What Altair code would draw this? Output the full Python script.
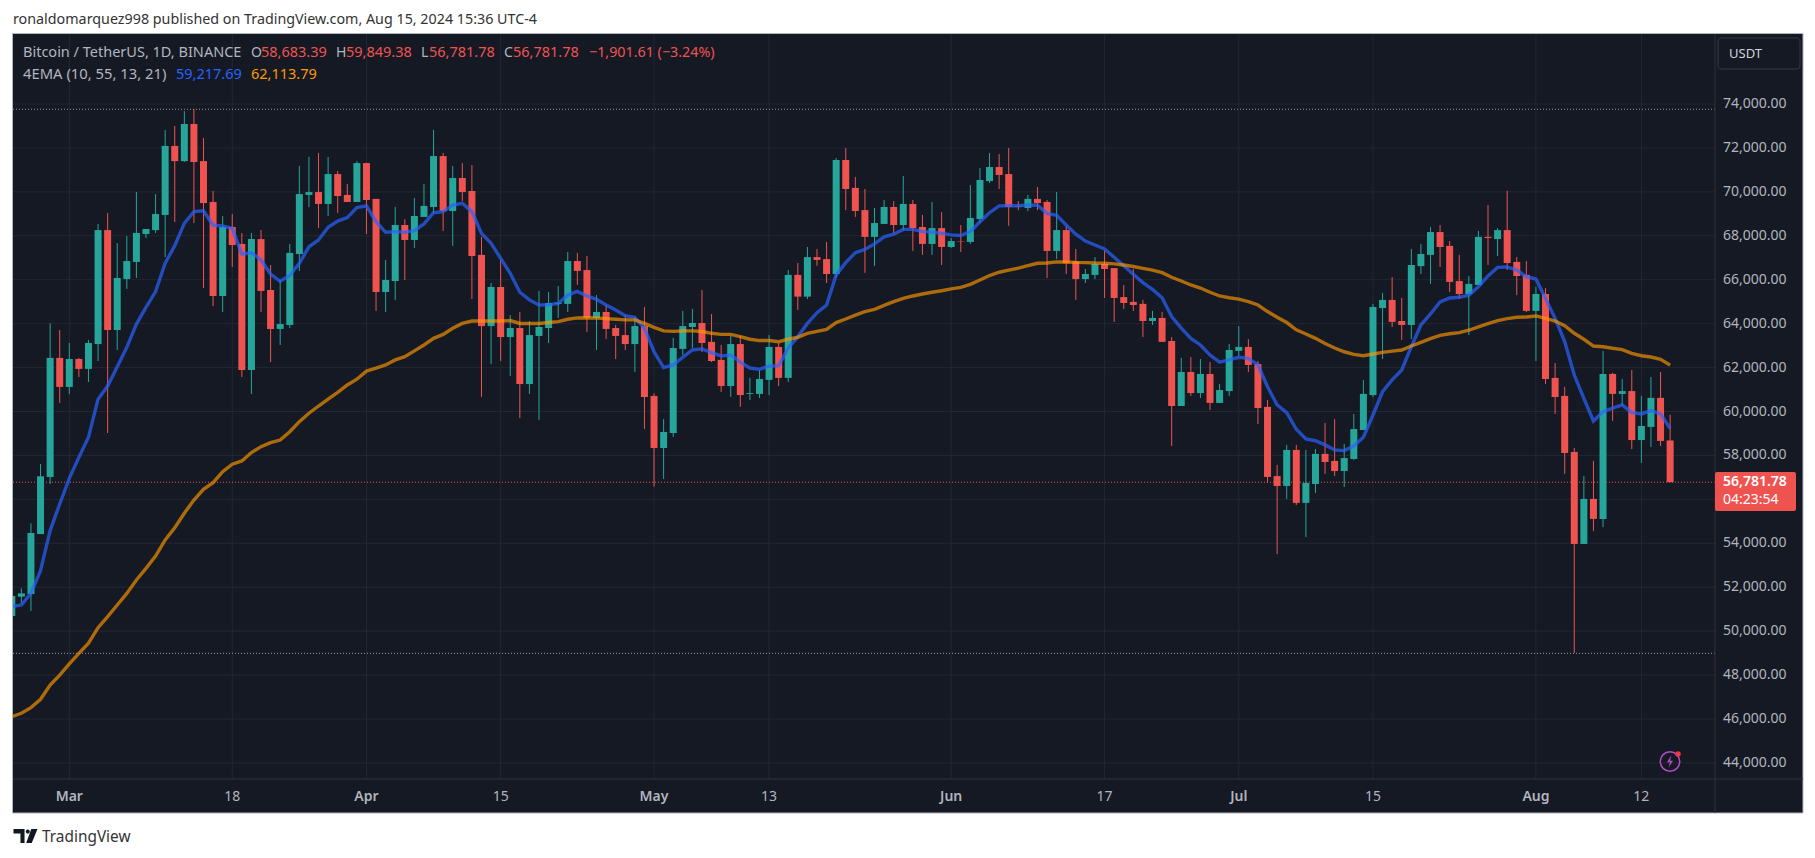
import altair as alt
import pandas as pd

O = [50690,51570,51690,54420,57020,62440,61120,62390,61940,63070,68260,63710,66030,66810,68080,68260,68950,72090,71400,73090,71400,69540,65260,68400,67630,61890,67850,65530,63760,63940,67170,69860,69990,69450,70810,69860,69540,71310,69680,65440,65940,68490,67810,68860,69310,71630,69130,70630,70040,67130,63890,65670,63390,63800,61250,63440,63800,64900,64900,66850,66440,64260,64530,63800,63480,63070,63890,60710,58340,59020,62850,63850,64030,63170,62350,61160,63070,60800,60800,61440,62940,61530,66220,65230,67030,66940,66260,71450,70180,69170,67950,68540,69310,68490,69450,68400,67630,68350,67490,67750,67720,68760,70490,71130,70810,69340,69270,69680,69540,67310,68260,66840,66030,66220,66720,66530,65210,64990,64900,64120,64260,63210,60250,61800,60840,61710,60390,60930,62760,62940,62160,60210,57060,56610,58250,55840,56700,58070,57750,57290,57840,59160,60750,64710,65080,64120,63940,66620,67130,68170,67540,65940,65350,65760,67950,67850,68260,66810,66220,64580,65350,61530,60710,58160,53970,56020,55110,61710,60800,60930,58700,59300,60620,58683.39]
H = [51700,51950,54910,57610,64010,63710,63120,62440,63260,68540,69040,67670,67990,69990,68310,69900,72820,73000,73680,73770,72450,70040,68900,68990,68130,68130,68260,66670,65990,67630,71180,71590,71770,71590,70950,70360,71400,71330,69680,66900,69310,68760,69720,70360,72820,71770,71180,71310,71220,67950,65850,66900,64390,64530,64120,65490,65440,65710,67260,67220,67080,65300,64850,63940,64390,64300,64760,60830,59660,63350,64580,64670,65530,64440,63030,63440,63440,61530,61890,63480,63120,66440,66760,67490,67400,67720,71540,72000,70680,70130,69270,69630,69580,70720,69630,68950,69540,69080,67900,68490,70310,71090,71770,71720,72000,69580,69860,70220,69630,69990,68450,67400,66490,67030,67310,66530,65760,66490,65080,64580,64530,63390,62440,62480,62390,62250,61250,63070,63890,63300,62300,60520,57570,58480,58480,58250,58290,59480,59660,58520,59890,61440,64900,65400,66120,65170,67400,67630,68400,68490,67760,67130,66170,68220,69400,68350,70050,67030,66850,65670,65620,62210,61120,58340,57060,57750,62760,61760,61480,61890,60710,61570,61800,59849.38]
L = [50600,51270,50920,54420,56700,60390,60800,61570,61340,62300,59020,62800,65580,66080,67900,68130,67030,68630,71360,68580,65620,64800,64530,66580,61570,60800,64530,62250,63030,63800,66400,69310,68360,68900,69040,69540,69540,68080,64580,64530,65080,65990,67440,68860,69020,68220,67540,69580,65120,60660,62160,62300,61620,59700,60800,59610,63120,64260,64530,65760,63620,62800,63300,62390,62800,61800,59200,56580,56930,58840,62570,62880,62710,62250,60890,60660,60210,60520,60620,60750,61160,61340,64620,65120,66630,65850,66080,69170,68860,66310,66630,68540,68110,68260,67310,67130,67130,66670,67440,67260,67630,68580,70400,70130,68450,69170,69130,69170,66080,66940,66260,65080,65850,66030,65170,64080,64670,64580,63390,63940,63170,58430,60250,60710,60620,60070,60390,60710,62530,61800,59430,56750,53510,56020,55740,54290,56290,57160,57060,56560,57790,59160,60660,62390,63850,63260,63300,66260,65810,66580,65440,65120,63480,65760,66670,67080,66440,65300,64530,62300,61250,59890,57160,49010,53970,54560,54740,59570,60250,58290,57660,58390,58430,56781.78]
C = [51600,51720,54470,57050,62440,61120,62390,61940,63120,68260,63710,66080,66850,68130,68310,68990,72090,71400,73090,71360,69490,65260,68400,67580,61890,67850,65490,63760,63980,67220,69900,69990,69450,70810,69810,69540,71310,69630,65440,65990,68490,67810,68900,69360,71630,69130,70630,69990,67080,63890,65670,63390,63800,61250,63480,63850,64940,64950,66850,66400,64260,64530,63760,63440,63070,63890,60660,58340,59070,62890,63890,64030,63120,62300,61160,63070,60750,60840,61480,62940,61530,66220,65230,67030,66900,66260,71450,70130,69130,67950,68580,69310,68490,69450,68350,67630,68350,67490,67760,67730,68810,70540,71130,70770,69310,69310,69680,69490,67310,68260,66750,66030,66260,66720,66490,65170,64940,64850,64120,64260,63170,60250,61800,60840,61710,60390,60980,62800,62940,62120,60160,57020,56610,58250,55840,56750,58070,57700,57290,57880,59200,60800,64760,65080,64080,63940,66670,67170,68170,67490,65900,65350,65810,67950,67900,68260,66760,66170,64580,65350,61480,60660,58110,53970,56020,55110,61710,60800,60930,58700,59340,60620,58660,56781.78]

EMA10 = [51120,51190,51720,52760,54580,55790,56960,57910,58830,60560,61160,62040,62920,63980,64740,65460,66750,67550,68570,69100,69140,68480,68450,68340,67170,67230,66900,66260,65930,66190,66750,67500,67810,68390,68670,68830,69280,69360,68640,68160,68190,68160,68230,68540,69050,69100,69400,69480,69100,68110,67660,66970,66290,65430,65080,64850,64860,64920,65300,65470,65260,65110,64850,64620,64360,64290,63790,62720,62000,62120,62470,62800,62850,62680,62530,62570,62250,61980,61920,62070,62090,62880,63410,64010,64500,64850,66220,66780,67230,67380,67630,67950,68070,68290,68290,68190,68170,68110,68040,68010,68190,68640,69050,69360,69370,69370,69400,69390,69020,68930,68490,68070,67760,67580,67400,67020,66640,66250,65870,65560,65180,64320,63800,63330,63030,62570,62250,62350,62470,62420,62120,61130,60300,59950,59190,58750,58670,58480,58250,58220,58430,58830,59840,60900,61440,61890,62950,63940,64440,64990,65170,65200,65300,65680,66170,66560,66580,66440,66140,66030,65150,64240,63180,61660,60600,59570,59990,60150,60300,59950,59890,60040,59890,59217.69]
EMA55 = [46110,46260,46520,46900,47550,48000,48510,48990,49450,50160,50660,51190,51720,52330,52860,53420,54150,54710,55370,55970,56460,56760,57260,57600,57750,58130,58400,58580,58700,59080,59540,59920,60250,60560,60870,61210,61470,61840,61980,62120,62350,62500,62760,63030,63330,63510,63790,64010,64120,64120,64120,64120,64140,64010,64010,64010,64050,64090,64200,64260,64270,64260,64230,64200,64170,64170,64010,63830,63670,63650,63670,63670,63640,63560,63510,63510,63410,63290,63230,63230,63180,63290,63380,63560,63650,63740,64050,64210,64390,64550,64650,64830,65000,65150,65260,65350,65430,65500,65580,65650,65790,65990,66190,66340,66440,66530,66640,66750,66760,66810,66810,66790,66780,66760,66750,66720,66670,66600,66520,66440,66320,66110,65940,65760,65620,65430,65260,65180,65120,65000,64850,64550,64290,64050,63720,63530,63330,63100,62890,62720,62600,62540,62620,62690,62750,62800,62980,63150,63320,63470,63540,63590,63700,63850,64000,64140,64230,64290,64300,64350,64240,64120,63910,63560,63290,62980,62950,62880,62820,62650,62540,62480,62380,62113.79]

DAYS = list(range(-6, 168))
MONTH_DAYS = [0, 31, 61, 92, 122, 153]
MONTH_TEXT = ["Mar", "Apr", "May", "Jun", "Jul", "Aug"]
MID_DAYS = [17, 45, 73, 108, 136, 164]
MID_TEXT = ["18", "15", "13", "17", "15", "12"]
GRID_PRICES = list(range(44000, 76000, 2000))
AXIS_PRICES = [p for p in GRID_PRICES if p != 56000]
LAST = 56781.78
HIGH_MARK = 73760
LOW_MARK = 48990

FONT = "Noto Sans"
BG = "#151924"
GRID = "#232733"
SEP = "#2e323d"
TXT = "#b2b5be"
RED = "#ef5350"
GREEN = "#26a69a"

df = pd.DataFrame({"day": DAYS, "o": O, "h": H, "l": L, "c": C, "e10": EMA10, "e55": EMA55})
df["dir"] = ["up" if c >= o else "down" for o, c in zip(O, C)]
one = pd.DataFrame({"a": [0]})

xs = alt.Scale(domain=[-5.873, 171.68], nice=False, zero=False, padding=0)
ys = alt.Scale(domain=[43269, 77187], nice=False, zero=False, padding=0)
col = alt.Color("dir:N", scale=alt.Scale(domain=["up", "down"], range=[GREEN, RED]), legend=None)
X = alt.X("day:Q", scale=xs, axis=None)
Y = lambda f: alt.Y(f, type="quantitative", scale=ys, axis=None)


def px(v):
    return v - 13


def py(v):
    return v - 34


def txt(s, x, y, color=TXT, size=14, weight=400, align="left", font=FONT):
    return alt.Chart(one).mark_text(text=s, align=align, baseline="middle", fontSize=size,
                                    fontWeight=weight, font=font, color=color).encode(
        x=alt.value(px(x)), y=alt.value(py(y)))


def box(x, x2, y, y2, fill, stroke=None, radius=0):
    kw = {"fill": fill}
    if stroke:
        kw.update(stroke=stroke, strokeWidth=1)
    if radius:
        kw["cornerRadius"] = radius
    return alt.Chart(one).mark_rect(**kw).encode(
        x=alt.value(px(x)), x2=alt.value(px(x2)), y=alt.value(py(y)), y2=alt.value(py(y2)))


frame = box(12.5, 1803, 33.5, 813, BG, "#b2b5be")

vgrid = alt.Chart(pd.DataFrame({"day": MONTH_DAYS + MID_DAYS})).mark_rule(color=GRID, strokeWidth=1).encode(
    x=alt.X("day:Q", scale=xs, axis=None))
hgrid = alt.Chart(pd.DataFrame({"p": GRID_PRICES})).mark_rule(color=GRID, strokeWidth=1).encode(
    y=alt.Y("p:Q", scale=ys, axis=None))

month_labels = alt.Chart(pd.DataFrame({"day": MONTH_DAYS, "t": MONTH_TEXT})).mark_text(
    font=FONT, fontSize=14, fontWeight=600, color=TXT, align="center", baseline="middle").encode(
    x=alt.X("day:Q", scale=xs, axis=None), y=alt.value(py(797)), text="t:N")
mid_labels = alt.Chart(pd.DataFrame({"day": MID_DAYS, "t": MID_TEXT})).mark_text(
    font=FONT, fontSize=14, color=TXT, align="center", baseline="middle").encode(
    x=alt.X("day:Q", scale=xs, axis=None), y=alt.value(py(797)), text="t:N")
price_labels = alt.Chart(pd.DataFrame({"p": AXIS_PRICES})).mark_text(
    font=FONT, fontSize=14, color=TXT, align="left", baseline="middle").encode(
    y=alt.Y("p:Q", scale=ys, axis=None), x=alt.value(px(1723)), text=alt.Text("p:Q", format=",.2f"))

guides = alt.Chart(pd.DataFrame({"p": [HIGH_MARK, LOW_MARK]})).mark_rule(
    color="#9598a1", strokeWidth=1, strokeDash=[1, 2]).encode(y=alt.Y("p:Q", scale=ys, axis=None))
last_line = alt.Chart(pd.DataFrame({"p": [LAST]})).mark_rule(
    color=RED, strokeWidth=1, strokeDash=[1, 2]).encode(y=alt.Y("p:Q", scale=ys, axis=None))

wicks = alt.Chart(df).mark_rule(strokeWidth=1, clip=True).encode(x=X, y=Y("l"), y2="h", color=col)
bodies = alt.Chart(df).mark_bar(size=7, clip=True).encode(x=X, y=Y("o"), y2="c", color=col)
line10 = alt.Chart(df).mark_line(color="#2962ff", opacity=0.7, strokeWidth=3.4, clip=True).encode(x=X, y=Y("e10"))
line55 = alt.Chart(df).mark_line(color="#ff9800", opacity=0.65, strokeWidth=3.4, clip=True).encode(x=X, y=Y("e55"))

v_sep = alt.Chart(one).mark_rule(color=SEP).encode(x=alt.value(px(1715)), y=alt.value(py(34)), y2=alt.value(py(813)))
h_sep = alt.Chart(one).mark_rule(color=SEP).encode(y=alt.value(py(779)), x=alt.value(px(13)), x2=alt.value(px(1803)))

BOLT = "M0.15,-0.7 L-0.35,0.1 L-0.02,0.1 L-0.15,0.7 L0.35,-0.1 L0.02,-0.1 Z"
LOGO = ("M-1,-0.58 L-0.08,-0.58 L-0.08,0.58 L-0.42,0.58 L-0.42,-0.2 L-1,-0.2 Z "
        "M0.02,-0.38 A0.17,0.17 0 1 1 0.36,-0.38 A0.17,0.17 0 1 1 0.02,-0.38 Z "
        "M0.48,-0.58 L1,-0.58 L0.52,0.58 L0.06,0.58 Z")


def icon(shape, x, y, size, **kw):
    return alt.Chart(one).mark_point(shape=shape, size=size, **kw).encode(
        x=alt.value(px(x)), y=alt.value(py(y)))


layers = [
    frame, vgrid, hgrid, guides, last_line, wicks, bodies, line10, line55, v_sep, h_sep,
    price_labels, month_labels, mid_labels,
    box(1718, 1800, 38, 69, BG, "#363a45", 3),
    txt("USDT", 1729, 54, "#d1d4dc", 13),
    box(1715, 1796, 472, 511, RED, None, 2),
    txt("56,781.78", 1723, 482, "#ffffff", 14, 600),
    txt("04:23:54", 1723, 500, "#ffffff", 14),
    txt("ronaldomarquez998 published on TradingView.com, Aug 15, 2024 15:36 UTC-4", 13, 20, "#333333", 14.3),
    txt("Bitcoin / TetherUS, 1D, BINANCE", 23, 53, TXT, 14.5),
    txt("O", 251, 53), txt("58,683.39", 261, 53, RED, 14.5),
    txt("H", 336, 53), txt("59,849.38", 346, 53, RED, 14.5),
    txt("L", 421, 53), txt("56,781.78", 429, 53, RED, 14.5),
    txt("C", 504, 53), txt("56,781.78", 513, 53, RED, 14.5),
    txt("\u22121,901.61 (\u22123.24%)", 589, 53, RED, 14.3),
    txt("4EMA (10, 55, 13, 21)", 23, 75, TXT, 14.8),
    txt("59,217.69", 176, 75, "#2962ff", 14.5),
    txt("62,113.79", 251, 75, "#ff9800", 14.5),
    icon("circle", 1670, 761.5, 380, stroke="#b04cc8", strokeWidth=1.5, filled=False, opacity=1),
    icon(BOLT, 1670, 761.5, 300, fill="#b04cc8", filled=True, strokeWidth=0, opacity=1),
    icon("circle", 1678, 754, 30, fill="#f23645", filled=True, strokeWidth=0, opacity=1),
    icon(LOGO, 25.5, 836, 576, fill="#131722", filled=True, strokeWidth=0, opacity=1),
    txt("TradingView", 42, 837, "#333333", 15.4),
]

chart = alt.layer(*layers).properties(
    width=1702, height=745,
    padding={"left": 5, "top": 26, "right": 92, "bottom": 71},
    autosize=alt.AutoSizeParams(type="none"),
    background="white",
).configure_view(stroke=None)

chart.save("out.html", embed_options={"renderer": "svg", "actions": False})
